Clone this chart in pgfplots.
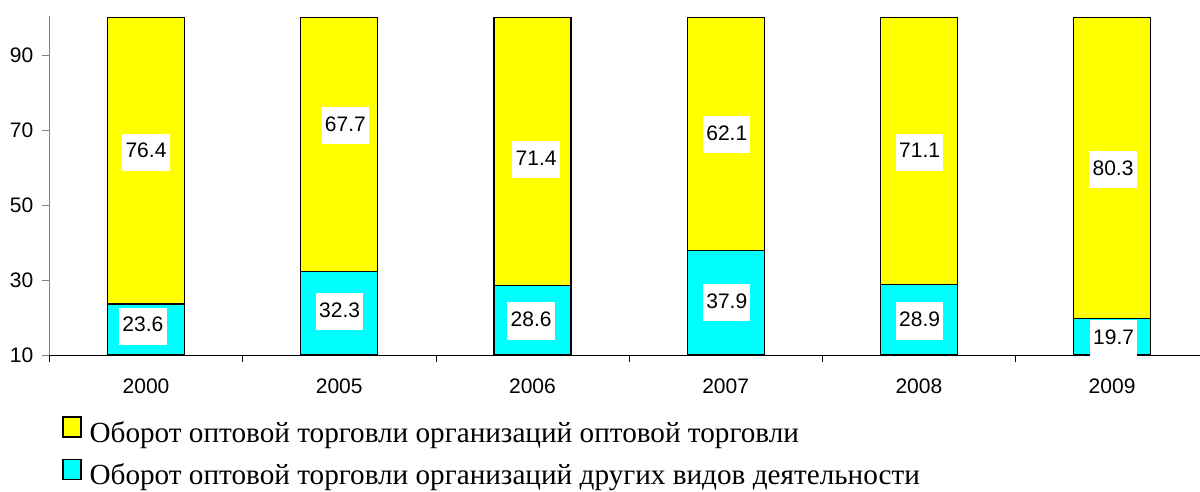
\documentclass[border=0pt]{standalone}
\usepackage{pgfplots}
\pgfplotsset{compat=1.18}
\usepackage{fontspec}
\setmainfont{Liberation Sans}
\newfontfamily\legendfont{Liberation Serif}
\definecolor{barYellow}{RGB}{255,255,0}
\definecolor{barCyan}{RGB}{0,255,255}

% label positions (centre of the white boxes)
\pgfplotstableread{
x      y      lab
0.000  64.1   76.4
-0.016 17.7   23.6
1.032  71.1   67.7
1.002  21.6   32.3
2.019  62.05  71.4
1.993  19.07  28.6
3.006  68.7   62.1
3.006  23.9   37.9
4.004  64.05  71.1
4.004  19.07  28.9
5.005  59.47  80.3
5.008  14.27  19.7
}\labels

\begin{document}
\begin{tikzpicture}
\pgfplotsset{
  common/.style={
    at={(0,0)}, anchor=south west,
    scale only axis,
    width=575.3pt, height=169.3pt,
    xmin=-0.5, xmax=5.455,
    ymin=10, ymax=100.3,
  }
}
\begin{axis}[
  common,
  ybar stacked, bar width=38.5pt,
  ytick={10,30,50,70,90},
  xtick={0,...,5},
  xticklabels={2000,2005,2006,2007,2008,2009},
  minor xtick={-0.5,0.5,1.5,2.5,3.5,4.5},
  every major x tick/.append style={draw=none},
  every minor x tick/.append style={draw=black},
  ytick style={gray},
  tick align=outside,
  major tick length=3.5pt, minor tick length=3.5pt,
  axis x line*=bottom, axis y line*=left,
  x axis line style={black}, y axis line style={gray},
  tick label style={font=\fontsize{10.5}{12}\selectfont},
  /pgf/number format/assume math mode=true,
  xticklabel style={yshift=-5pt},
  yticklabel style={xshift=-1pt},
  reverse legend,
  legend cell align=left,
  legend image code/.code={\draw[#1] (0pt,-0.5pt) rectangle (9pt,9.5pt);},
  legend style={
    at={(0,0)}, anchor=north west, xshift=6.3pt, yshift=-30.5pt,
    draw=none, fill=none, inner sep=0pt,
    row sep=4.5pt, column sep=4pt,
    font=\legendfont\fontsize{14.6}{17}\selectfont,
    nodes={inner sep=0pt, text height=10pt, text depth=3.5pt},
  },
]
\addplot[fill=barCyan, draw=black, line width=0.6pt] coordinates {
  (0,23.6) (1,32.3) (2,28.6) (3,37.9) (4,28.9) (5,19.7)
};
\addplot[fill=barYellow, draw=black, line width=0.6pt] coordinates {
  (0,76.4) (1,67.7) (2,71.4) (3,62.1) (4,71.1) (5,80.3)
};
\legend{Оборот оптовой торговли организаций других видов деятельности,
        Оборот оптовой торговли организаций оптовой торговли}
\end{axis}

\begin{axis}[common, hide axis, clip=false]
\addplot[draw=none, mark=none,
  nodes near coords, point meta=explicit symbolic,
  nodes near coords align={center},
  every node near coord/.append style={
    anchor=center, fill=white, inner xsep=1.6pt, inner ysep=4.5pt,
    text height=7.6pt, text depth=2pt,
    font=\fontsize{10.5}{12}\selectfont},
] table[x=x, y=y, meta=lab] {\labels};
\end{axis}

\pgfresetboundingbox
\path (-24.7pt,-68.5pt) rectangle (575.3pt,177.5pt);
\end{tikzpicture}
\end{document}
